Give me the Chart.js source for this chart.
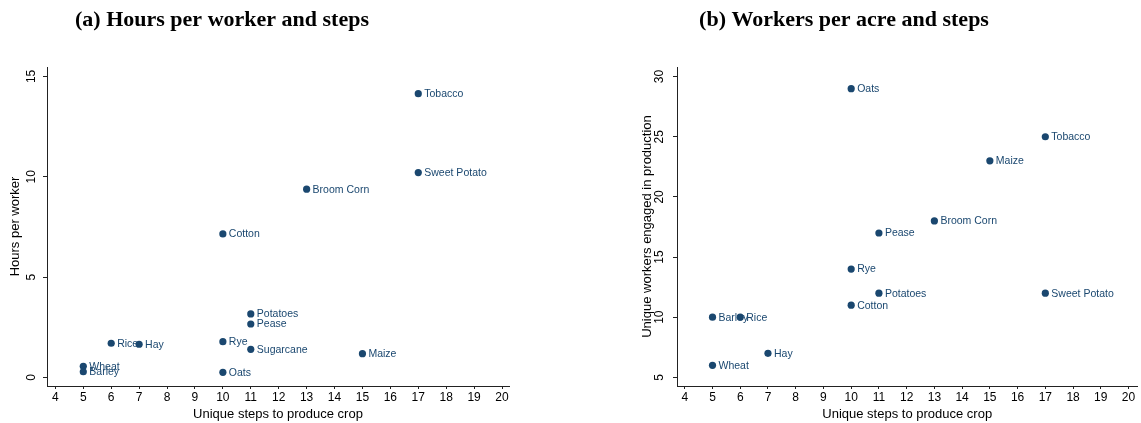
<!DOCTYPE html>
<html><head><meta charset="utf-8">
<script src="https://cdn.jsdelivr.net/npm/chart.js@4.4.1/dist/chart.umd.min.js"></script>
<style>
html,body{margin:0;padding:0;background:#fff;}
#wrap{position:relative;width:1141px;height:423px;overflow:hidden;}
.p{position:absolute;top:0;height:423px;}
#pa{left:0;width:570px}
#pb{left:570px;width:571px}
canvas{display:block}
</style></head>
<body>
<div id="wrap">
  <div class="p" id="pa"><canvas id="ca" width="570" height="423"></canvas></div>
  <div class="p" id="pb"><canvas id="cb" width="571" height="423"></canvas></div>
</div>
<script>
// ---- data ----
const crops = ["Wheat","Barley","Rice","Hay","Rye","Cotton","Oats","Potatoes","Pease","Sugarcane","Broom Corn","Maize","Tobacco","Sweet Potato"];
const steps = [5,5,6,7,10,10,10,11,11,11,13,15,17,17];
const hoursPerWorker = [0.55,0.28,1.70,1.65,1.78,7.15,0.25,3.16,2.66,1.40,9.38,1.18,14.14,10.21];
const workersPerAcre = [6,10,10,7,14,11,29,12,17,null,18,23,25,12];
const xTicks = [4,5,6,7,8,9,10,11,12,13,14,15,16,17,18,19,20];
const yTicksA = [0,5,10,15];
const yTicksB = [5,10,15,20,25,30];

const NAVY = '#1a476f';
const SANS = '"Liberation Sans", Arial, sans-serif';
const SERIF = '"Liberation Serif", "Times New Roman", serif';

function makeChart(canvasId, cfg) {
  const canvas = document.getElementById(canvasId);
  const W = canvas.width, H = canvas.height;
  const pts = [];
  const labs = [];
  for (let i = 0; i < crops.length; i++) {
    if (cfg.values[i] === null || cfg.values[i] === undefined) continue;
    pts.push({x: steps[i], y: cfg.values[i]});
    labs.push(crops[i]);
  }
  const textPlugin = {
    id: 'texts',
    beforeDatasetsDraw(chart) {
      const ctx = chart.ctx;
      const meta = chart.getDatasetMeta(0);
      ctx.save();
      ctx.font = '10.5px ' + SANS;
      ctx.fillStyle = NAVY;
      ctx.textAlign = 'left';
      ctx.textBaseline = 'middle';
      meta.data.forEach((el, i) => {
        ctx.fillText(labs[i], el.x + 6, el.y + 0.5);
      });
      ctx.restore();
    },
    afterDraw(chart) {
      const ctx = chart.ctx;
      const a = chart.chartArea;
      const ys = chart.scales.y;
      ctx.save();
      // panel title
      ctx.font = 'bold 22px ' + SERIF;
      ctx.fillStyle = '#000';
      ctx.textAlign = 'center';
      ctx.textBaseline = 'alphabetic';
      ctx.fillText(cfg.title, cfg.titleX, 26);
      // x axis title
      ctx.font = '13px ' + SANS;
      ctx.fillText(cfg.xTitle, (a.left + a.right) / 2, 417.5);
      // y tick labels (rotated)
      ctx.font = '12px ' + SANS;
      ctx.textBaseline = 'middle';
      cfg.yTicks.forEach(v => {
        const y = ys.getPixelForValue(v);
        ctx.save();
        ctx.translate(cfg.yTickX, y);
        ctx.rotate(-Math.PI / 2);
        ctx.fillText(String(v), 0, 0);
        ctx.restore();
      });
      // y title
      ctx.font = '13px ' + SANS;
      ctx.save();
      ctx.translate(cfg.yTitleX, (a.top + a.bottom) / 2);
      ctx.rotate(-Math.PI / 2);
      ctx.fillText(cfg.yTitle, 0, 0);
      ctx.restore();
      ctx.restore();
    }
  };
  return new Chart(canvas, {
    type: 'scatter',
    data: {
      datasets: [{
        data: pts,
        backgroundColor: NAVY,
        borderColor: NAVY,
        borderWidth: 0,
        pointRadius: 3.6,
        pointHoverRadius: 3.6
      }]
    },
    options: {
      responsive: false,
      animation: false,
      devicePixelRatio: 1,
      events: [],
      layout: {padding: {top: cfg.area.top, right: W - cfg.area.right, bottom: 0, left: 0}},
      plugins: {legend: {display: false}, title: {display: false}, tooltip: {enabled: false}},
      scales: {
        x: {
          type: 'linear',
          min: cfg.xMin, max: cfg.xMax,
          afterBuildTicks: s => { s.ticks = xTicks.map(v => ({value: v})); },
          afterFit: s => { s.height = H - cfg.area.bottom; },
          grid: {drawOnChartArea: false, drawTicks: true, tickLength: 3, tickColor: '#222', lineWidth: 1},
          border: {display: true, color: '#222', width: 1},
          ticks: {font: {family: SANS, size: 12}, color: '#000', padding: 1, maxRotation: 0, minRotation: 0, autoSkip: false,
                  callback: v => String(v)}
        },
        y: {
          type: 'linear',
          min: cfg.yMin, max: cfg.yMax,
          afterBuildTicks: s => { s.ticks = cfg.yTicks.map(v => ({value: v})); },
          afterFit: s => { s.width = cfg.area.left; },
          grid: {drawOnChartArea: false, drawTicks: true, tickLength: 4, tickColor: '#222', lineWidth: 1},
          border: {display: true, color: '#222', width: 1},
          ticks: {color: 'rgba(0,0,0,0)', font: {family: SANS, size: 12}}
        }
      }
    },
    plugins: [textPlugin]
  });
}

makeChart('ca', {
  title: '(a) Hours per worker and steps', titleX: 222,
  xTitle: 'Unique steps to produce crop',
  yTitle: 'Hours per worker', yTitleX: 15, yTickX: 32,
  values: hoursPerWorker, yTicks: yTicksA,
  xMin: 3.70, xMax: 20.25, yMin: -0.43, yMax: 15.47,
  area: {left: 47, right: 509, top: 67, bottom: 386}
});
makeChart('cb', {
  title: '(b) Workers per acre and steps', titleX: 274,
  xTitle: 'Unique steps to produce crop',
  yTitle: 'Unique workers engaged in production', yTitleX: 77, yTickX: 90,
  values: workersPerAcre, yTicks: yTicksB,
  xMin: 3.72, xMax: 20.32, yMin: 4.28, yMax: 30.8,
  area: {left: 107, right: 569, top: 67, bottom: 386}
});
</script>
</body></html>
